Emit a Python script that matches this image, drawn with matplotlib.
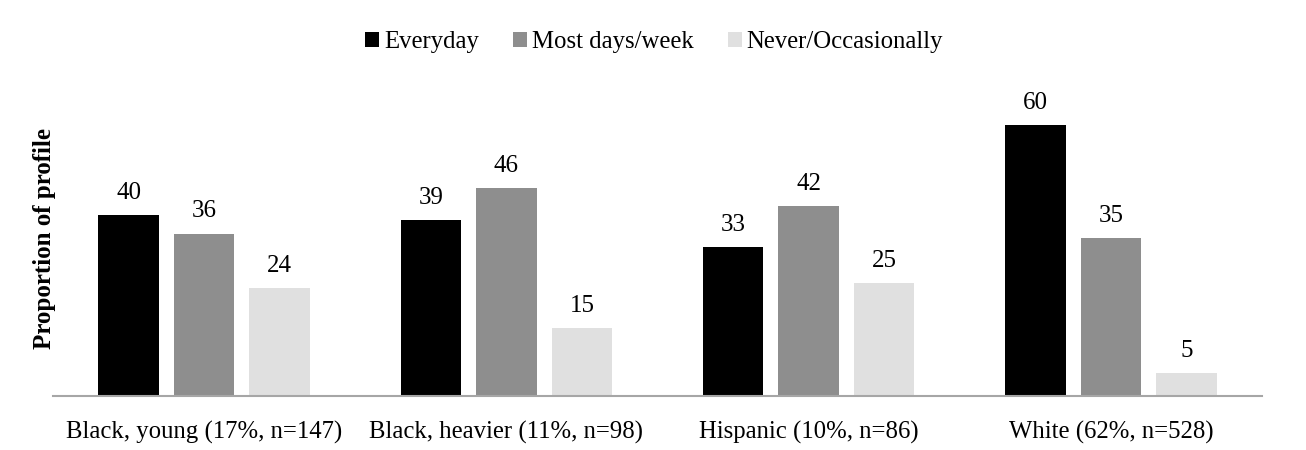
import matplotlib
matplotlib.use('Agg')
import matplotlib.pyplot as plt
import numpy as np

# donnees
categories = ['Black, young (17%, n=147)', 'Black, heavier (11%, n=98)',
              'Hispanic (10%, n=86)', 'White (62%, n=528)']
series = ['Everyday', 'Most days/week', 'Never/Occasionally']
everyday = [40, 39, 33, 60]
most_days = [36, 46, 42, 35]
never_occ = [24, 15, 25, 5]
couleurs = ['#000000', '#8e8e8e', '#e0e0e0']

plt.rcParams['font.family'] = ['Liberation Serif', 'DejaVu Serif']

fig = plt.figure(figsize=(13.06, 4.5), dpi=100)
ax = fig.add_axes([0.0406, 0.12, 0.9257, 0.702])

x = np.arange(len(categories))
largeur = 0.2
pas = 0.25
valeurs = [everyday, most_days, never_occ]
for i, (nom, vals) in enumerate(zip(series, valeurs)):
    barres = ax.bar(x + (i - 1) * pas, vals, largeur, color=couleurs[i], label=nom)
    for b, v in zip(barres, vals):
        ax.annotate(str(v), (b.get_x() + b.get_width() / 2, v), xytext=(0, 8),
                    textcoords='offset points', ha='center', va='bottom', fontsize=18)

ax.set_xlim(-0.5, 3.5)
ax.set_ylim(0, 70)
ax.set_xticks(x)
ax.set_xticklabels(categories, fontsize=17.8)
ax.tick_params(axis='x', length=0, pad=18)
ax.set_yticks([])
for s in ['top', 'right', 'left']:
    ax.spines[s].set_visible(False)
ax.spines['bottom'].set_color('#a6a6a6')
ax.spines['bottom'].set_linewidth(1.5)
ax.set_ylabel('Proportion of profile', fontsize=18, fontweight='bold', labelpad=-2)

fig.legend(loc='center', bbox_to_anchor=(0.501, 0.907), ncol=3, frameon=False, fontsize=17.8,
           handlelength=0.55, handleheight=0.55, handletextpad=0.2, columnspacing=1.4)

fig.savefig('out.png', dpi=100)
